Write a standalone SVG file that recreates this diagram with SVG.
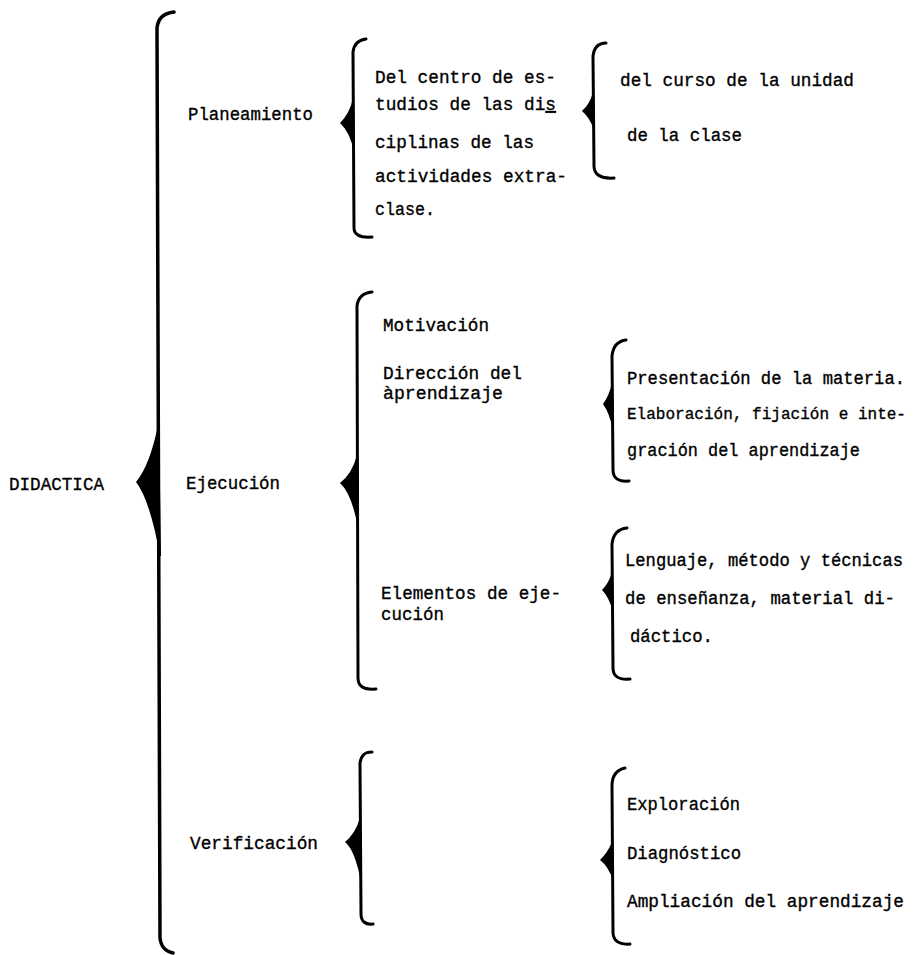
<svg xmlns="http://www.w3.org/2000/svg" width="918" height="955" viewBox="0 0 918 955">
<style>
text{font-family:"Liberation Mono","DejaVu Sans Mono",monospace;font-size:19px;fill:#000;stroke:#000;stroke-width:0.35px}
.br{fill:none;stroke:#000;stroke-width:3;stroke-linecap:round}
.bm{fill:none;stroke:#000;stroke-width:3.5;stroke-linecap:round}
.tip{fill:#000;stroke:none}
</style>
<rect width="918" height="955" fill="#fff"/>
<g id="connectors">
  <path class="bm" d="M174,12 C164,13 158,18 157,28 L160,938 C161,947 165,951 173,953"/>
  <path class="tip" d="M158,425 Q150,465 136,482 Q150,500 160,556 L161,556 L159,425 Z"/>
  <path class="br" d="M366,39 C358,40 354,44 353,52 L354,228 C354,234 359,238 372,237"/>
  <path class="tip" d="M353,98 Q350,113 340,123 Q350,132 354,152 L355,152 L354,98 Z"/>
  <path class="br" d="M606,43 C598,43 594,48 593,56 L594,166 C594,174 600,179 614,178"/>
  <path class="tip" d="M593,92 Q590,104 582,111 Q590,118 594,130 L595,130 L594,92 Z"/>
  <path class="br" d="M372,292 C362,293 358,298 357,306 L358,678 C358,686 363,690 376,689"/>
  <path class="tip" d="M357,455 Q352,474 340,483 Q352,494 358,528 L359,528 L358,455 Z"/>
  <path class="br" d="M626,340 C617,341 613,347 612,356 L613,470 C613,478 618,482 629,481"/>
  <path class="tip" d="M612,383 Q609,396 603,404 Q609,412 613,430 L614,430 L613,383 Z"/>
  <path class="br" d="M627,528 C617,529 613,535 612,544 L613,668 C613,676 618,680 630,679"/>
  <path class="tip" d="M612,572 Q609,583 602,590 Q609,597 613,612 L614,612 L613,572 Z"/>
  <path class="br" d="M372,752 C364,752 361,756 360,763 L361,914 C361,921 365,925 373,924"/>
  <path class="tip" d="M360,818 Q355,834 345,842 Q355,850 361,882 L362,882 L361,818 Z"/>
  <path class="br" d="M625,768 C616,770 612,777 612,786 L613,932 C613,940 618,945 630,944"/>
  <path class="tip" d="M612,842 Q608,852 600,860 Q608,866 613,880 L614,880 L613,842 Z"/>
</g>
<g id="n-didactica"><text x="9" y="490" textLength="95" lengthAdjust="spacingAndGlyphs">DIDACTICA</text></g>
<g id="n-planeamiento"><text x="188" y="120" textLength="125" lengthAdjust="spacingAndGlyphs">Planeamiento</text></g>
<g id="n-centro">
  <text x="375" y="83" textLength="181" lengthAdjust="spacingAndGlyphs">Del centro de es-</text>
  <text x="375" y="110" textLength="181" lengthAdjust="spacingAndGlyphs">tudios de las di<tspan text-decoration="underline">s</tspan></text>
  <text x="375" y="148" textLength="159" lengthAdjust="spacingAndGlyphs">ciplinas de las</text>
  <text x="375" y="182" textLength="192" lengthAdjust="spacingAndGlyphs">actividades extra-</text>
  <text x="375" y="215" textLength="60" lengthAdjust="spacingAndGlyphs">clase.</text>
</g>
<g id="n-curso"><text x="620" y="86" textLength="234" lengthAdjust="spacingAndGlyphs">del curso de la unidad</text></g>
<g id="n-clase"><text x="627" y="141" textLength="115" lengthAdjust="spacingAndGlyphs">de la clase</text></g>
<g id="n-ejecucion"><text x="186" y="489" textLength="94" lengthAdjust="spacingAndGlyphs">Ejecución</text></g>
<g id="n-motivacion"><text x="383" y="331" textLength="106" lengthAdjust="spacingAndGlyphs">Motivación</text></g>
<g id="n-direccion">
  <text x="383" y="379" textLength="139" lengthAdjust="spacingAndGlyphs">Dirección del</text>
  <text x="383" y="399" textLength="120" lengthAdjust="spacingAndGlyphs">àprendizaje</text>
</g>
<g id="n-presentacion">
  <text x="627" y="384" style="font-size:17.5px" textLength="278" lengthAdjust="spacingAndGlyphs">Presentación de la materia.</text>
  <text x="627" y="419" style="font-size:16.5px" textLength="279" lengthAdjust="spacingAndGlyphs">Elaboración, fijación e inte-</text>
  <text x="627" y="456" textLength="233" lengthAdjust="spacingAndGlyphs">gración del aprendizaje</text>
</g>
<g id="n-elementos">
  <text x="381" y="599" textLength="180" lengthAdjust="spacingAndGlyphs">Elementos de eje-</text>
  <text x="381" y="620" textLength="63" lengthAdjust="spacingAndGlyphs">cución</text>
</g>
<g id="n-lenguaje">
  <text x="625" y="566" style="font-size:17.5px" textLength="278" lengthAdjust="spacingAndGlyphs">Lenguaje, método y técnicas</text>
  <text x="625" y="604" style="font-size:18px" textLength="270" lengthAdjust="spacingAndGlyphs">de enseñanza, material di-</text>
  <text x="630" y="642" textLength="83" lengthAdjust="spacingAndGlyphs">dáctico.</text>
</g>
<g id="n-verificacion"><text x="190" y="849" textLength="128" lengthAdjust="spacingAndGlyphs">Verificación</text></g>
<g id="n-exploracion"><text x="627" y="810" textLength="113" lengthAdjust="spacingAndGlyphs">Exploración</text></g>
<g id="n-diagnostico"><text x="627" y="859" textLength="114" lengthAdjust="spacingAndGlyphs">Diagnóstico</text></g>
<g id="n-ampliacion"><text x="627" y="907" style="font-size:18px" textLength="277" lengthAdjust="spacingAndGlyphs">Ampliación del aprendizaje</text></g>
</svg>
